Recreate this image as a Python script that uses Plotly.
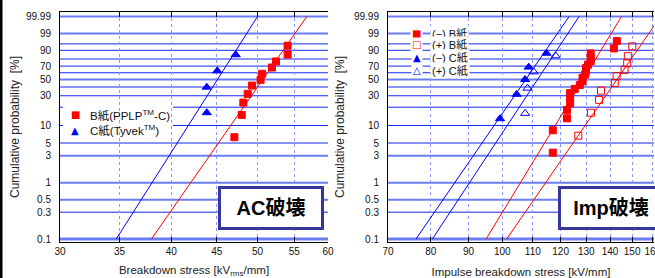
import numpy as np
import plotly.graph_objects as go

# ---------------- data ----------------
prob_tick_vals = [0.1, 0.3, 0.5, 1, 3, 5, 10, 30, 50, 70, 90, 99, 99.99]
prob_tick_text = ["0.1", "0.3", "0.5", "1", "3", "5", "10", "30", "50", "70", "90", "99", "99.99"]
prob_grid_light = [0.1, 0.5, 1, 3, 50, 99, 99.99]
prob_grid_dark = [0.3, 5, 10, 20, 30, 40, 60, 70, 80, 90, 95]

ac_x_ticks = [30, 35, 40, 45, 50, 55, 60]
imp_x_ticks = [70, 80, 90, 100, 110, 120, 130, 140, 150, 160]

# AC breakdown
ac_B_stress = [47.1, 48.0, 48.2, 48.75, 49.3, 50.4, 50.6, 51.9, 52.45, 54.05, 54.05]
ac_B_prob = [6.3, 15.0, 23.6, 32.0, 41.8, 49.6, 58.4, 67.9, 76.7, 85.6, 93.8]
ac_C_stress = [43.85, 43.85, 45.06, 47.26]
ac_C_prob = [16.3, 39.8, 62.9, 85.3]

fit_prob = [0.1, 99.99]
ac_B_fit = [38.0, 56.8]
ac_C_fit = [34.7, 50.0]

# Impulse breakdown
imp_negB_stress = [117.1, 117.1, 122.4, 122.4, 123.6, 123.6, 123.6, 125.4, 127.4, 128.5,
                   128.5, 129.5, 129.9, 129.9, 130.7, 131.8, 131.8, 131.8, 141.7, 143.0]
imp_negB_prob = [3.4, 8.3, 13.2, 18.1, 23.0, 27.9, 32.8, 37.7, 42.6, 47.5,
                 52.5, 57.4, 62.3, 67.2, 72.1, 77.0, 81.9, 86.8, 91.7, 96.6]
imp_posB_stress = [126.8, 131.9, 135.3, 136.1, 142.1, 142.9, 146.5, 147.7, 148.0, 150.1]
imp_posB_prob = [6.7, 16.3, 26.0, 35.6, 45.2, 54.8, 64.4, 74.0, 83.7, 93.3]
imp_negC_stress = [99.3, 104.6, 107.4, 108.6, 114.8]
imp_negC_prob = [13.0, 31.5, 50.0, 68.5, 87.0]
imp_posC_stress = [107.4, 108.2, 110.3, 118.1]
imp_posC_prob = [15.9, 38.6, 61.4, 84.1]

imp_negB_fit = [95.1, 145.1]
imp_posB_fit = [101.4, 163.9]
imp_negC_fit = [76.4, 123.2]
imp_posC_fit = [80.4, 127.1]

ac_legend = ["B紙(PPLP<sup>TM</sup>-C)", "C紙(Tyvek<sup>TM</sup>)"]
imp_legend = ["(−) B紙", "(+) B紙", "(−) C紙", "(+) C紙"]


def weib(p):
    p = np.asarray(p, dtype=float) / 100.0
    return np.log(-np.log(1.0 - p))


RED = "#ff0000"
BLUE = "#0000ff"
FONT = "Liberation Sans, Arial, Noto Sans CJK JP, sans-serif"
W, H = 655, 278
ML, MR, MT, MB = 0, 0, 12, 36
PW, PH = W - ML - MR, H - MT - MB


def px_x(px):
    return (px - ML) / PW


def px_y(py):
    return (H - MB - py) / PH


fig = go.Figure()


def add_pts(x, p, xa, ya, symbol, color, size, name):
    fig.add_trace(go.Scatter(
        x=x, y=weib(p), xaxis=xa, yaxis=ya, mode="markers", name=name,
        marker=dict(symbol=symbol, color=color, size=size,
                    line=dict(color=color, width=1)),
        showlegend=False, cliponaxis=False))


def add_fit(x, xa, ya, color):
    fig.add_trace(go.Scatter(
        x=x, y=weib(fit_prob), xaxis=xa, yaxis=ya, mode="lines",
        line=dict(color=color, width=1), showlegend=False, hoverinfo="skip"))


# AC
add_fit(ac_C_fit, "x", "y", BLUE)
add_fit(ac_B_fit, "x", "y", RED)
add_pts(ac_B_stress, ac_B_prob, "x", "y", "square", RED, 7, ac_legend[0])
add_pts(ac_C_stress, ac_C_prob, "x", "y", "triangle-up", BLUE, 8, ac_legend[1])

# Imp
add_fit(imp_negC_fit, "x2", "y2", BLUE)
add_fit(imp_posC_fit, "x2", "y2", BLUE)
add_fit(imp_negB_fit, "x2", "y2", RED)
add_fit(imp_posB_fit, "x2", "y2", RED)
add_pts(imp_negB_stress, imp_negB_prob, "x2", "y2", "square", RED, 7, imp_legend[0])
add_pts(imp_posB_stress, imp_posB_prob, "x2", "y2", "square-open", RED, 7, imp_legend[1])
add_pts(imp_negC_stress, imp_negC_prob, "x2", "y2", "triangle-up", BLUE, 8, imp_legend[2])
add_pts(imp_posC_stress, imp_posC_prob, "x2", "y2", "triangle-up-open", BLUE, 8, imp_legend[3])

# horizontal probability grid
shapes = []
for xa, ya in (("x", "y"), ("x2", "y2")):
    for p in prob_grid_dark:
        shapes.append(dict(type="line", xref=f"{xa} domain", yref=ya, x0=0, x1=1,
                           y0=float(weib(p)), y1=float(weib(p)), layer="below",
                           line=dict(color="#1428f0", width=1)))
    for p in prob_grid_light:
        wdt = 3 if p == 0.1 else 2
        shapes.append(dict(type="line", xref=f"{xa} domain", yref=ya, x0=0, x1=1,
                           y0=float(weib(p)), y1=float(weib(p)), layer="below",
                           line=dict(color="#6b7df2", width=wdt)))

# white legend background (AC)
shapes.append(dict(type="rect", xref="paper", yref="paper",
                   x0=px_x(63), x1=px_x(173), y0=px_y(140), y1=px_y(102),
                   fillcolor="white", line=dict(width=0), layer="below"))
# black frame strip at left edge
shapes.append(dict(type="rect", xref="paper", yref="paper",
                   x0=px_x(0), x1=px_x(2.5), y0=px_y(H), y1=px_y(0),
                   fillcolor="black", line=dict(width=0), layer="above"))

annotations = []
# AC legend
for i, (sym, col) in enumerate((("■", RED), ("▲", BLUE))):
    yy = px_y(115 + 15 * i)
    annotations.append(dict(xref="paper", yref="paper", x=px_x(75), y=yy, text=sym,
                            showarrow=False, font=dict(family="DejaVu Sans", size=10, color=col),
                            xanchor="center", yanchor="middle"))
    annotations.append(dict(xref="paper", yref="paper", x=px_x(88), y=yy, text=ac_legend[i],
                            showarrow=False, font=dict(family=FONT, size=11.5, color="#111"),
                            xanchor="left", yanchor="middle"))
# Imp legend
imp_syms = (("■", RED), ("□", RED), ("▲", BLUE), ("△", BLUE))
imp_rows = [33.5, 45.0, 57.5, 70.0]
for i, (sym, col) in enumerate(imp_syms):
    yy = px_y(imp_rows[i])
    annotations.append(dict(xref="paper", yref="paper", x=px_x(416.5), y=yy, text=sym,
                            showarrow=False, bgcolor="white",
                            font=dict(family="DejaVu Sans", size=10, color=col),
                            xanchor="center", yanchor="middle"))
    annotations.append(dict(xref="paper", yref="paper", x=px_x(430), y=yy, text=imp_legend[i],
                            showarrow=False, bgcolor="white",
                            font=dict(family=FONT, size=11, color="#111"),
                            xanchor="left", yanchor="middle"))

# label boxes
for txt, cx in (("AC破壊", 271), ("Imp破壊", 611)):
    annotations.append(dict(xref="paper", yref="paper", x=px_x(cx), y=px_y(207.5), text=f"<b>{txt}</b>",
                            showarrow=False, bgcolor="white", bordercolor="#36379a", borderwidth=3,
                            borderpad=0, width=100, height=38,
                            font=dict(family="Liberation Sans, Noto Sans CJK JP", size=20, color="black"),
                            xanchor="center", yanchor="middle"))
fig.update_layout(shapes=shapes, annotations=annotations)

common_x = dict(type="log", showline=True, linecolor="black", linewidth=1, mirror="ticks",
                ticks="inside", ticklen=5, tickcolor="black", automargin=False,
                showgrid=True, griddash="dot", gridcolor="#8a98ff", gridwidth=1,
                ticklabeloverflow="allow",
                tickfont=dict(family=FONT, size=10, color="#111"), zeroline=False)
common_y = dict(range=[-7.03, 2.405], showline=True, linecolor="black", linewidth=1,
                showgrid=False, zeroline=False, ticks="", automargin=False,
                tickvals=[float(v) for v in weib(prob_tick_vals)], ticktext=prob_tick_text,
                tickfont=dict(family=FONT, size=10, color="#111"), ticklabelstandoff=6)

fig.update_layout(
    width=W, height=H, margin=dict(l=ML, r=MR, t=MT, b=MB, autoexpand=False),
    paper_bgcolor="white", plot_bgcolor="white", showlegend=False,
    xaxis=dict(common_x, domain=[px_x(60), px_x(328)],
               range=[np.log10(30), np.log10(60)], tickvals=ac_x_ticks,
               title=dict(text="Breakdown stress [kV<sub>rms</sub>/mm]",
                          font=dict(family=FONT, size=11.5, color="#222"), standoff=9)),
    yaxis=dict(common_y, anchor="x",
               title=dict(text="Cumulative probability  [%]",
                          font=dict(family=FONT, size=12, color="#222"), standoff=3)),
    xaxis2=dict(common_x, domain=[px_x(388), px_x(654)], anchor="y2",
                range=[np.log10(70), np.log10(160.6)], tickvals=imp_x_ticks,
                title=dict(text="Impulse breakdown stress [kV/mm]",
                           font=dict(family=FONT, size=11.5, color="#222"), standoff=11)),
    yaxis2=dict(common_y, anchor="x2",
                title=dict(text="Cumulative probability  [%]",
                           font=dict(family=FONT, size=12, color="#222"), standoff=6)),
)

fig.write_html("out.html", config={"displayModeBar": False},
               post_script="document.body.style.margin='0';document.body.style.overflow='hidden';")
